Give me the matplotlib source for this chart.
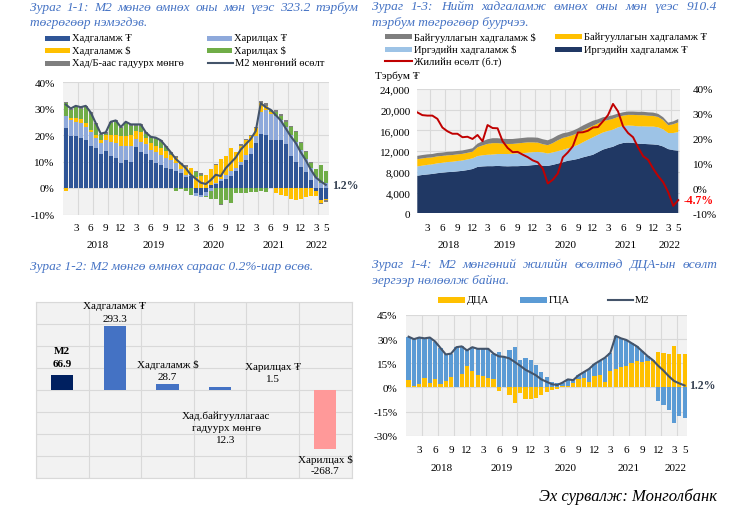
import numpy as np
import matplotlib
matplotlib.use("Agg")
import matplotlib.pyplot as plt
from matplotlib.patches import Rectangle
from matplotlib.lines import Line2D

# ---------------- data ----------------
months = list(range(53))   # Jan 2018 .. May 2022
month_tick_pos = [2, 5, 8, 11, 14, 17, 20, 23, 26, 29, 32, 35, 38, 41, 44, 47, 50, 52]
month_tick_lab = ['3', '6', '9', '12', '3', '6', '9', '12', '3', '6', '9', '12',
                  '3', '6', '9', '12', '3', '5']
years = ['2018', '2019', '2020', '2021', '2022']
year_pos = [6.3, 17.5, 29.5, 41.5, 50.2]

# Panel 1-1 / 1-4 : M2 annual growth (%)
m2_growth = [31.5, 30, 31, 30.5, 31, 28.5, 24.5, 20.5, 21, 25,
             25.5, 23, 25, 24, 24, 24, 21, 19.3, 19, 18,
             15.8, 13.5, 11, 9.3, 7.5, 5, 3.5, 2, 1.5, 3,
             5, 4.5, 7.5, 9.5, 11.5, 14.5, 16.5, 18.5, 21.5, 32,
             30.5, 29.5, 27.5, 25.5, 22.5, 19.5, 17, 13.5, 10.5, 7,
             4, 2.5, 1.2]
# contributions (percentage points)
sav_mnt = [22.5, 19.5, 19.5, 19, 18, 16, 15, 13, 14, 12,
           11.5, 9.5, 10.5, 10, 15.5, 13.5, 13, 10.5, 9.5, 8.5,
           7.5, 7, 6.5, 5.5, 4, 4.5, -2, -2.5, -1.5, 1,
           1.5, 2.5, 3.5, 4.5, 6.5, 8.5, 10.5, 13, 17, 20.5,
           20, 18, 18, 18, 16.5, 12, 10, 8, 6, 3,
           -1, -4.5, -4]
cur_mnt = [4.5, 6, 5.5, 5.5, 5, 5, 4, 4, 4, 5.5,
           5.5, 6.5, 5.5, 6, 3, 4, 3.5, 4, 4, 4,
           4, 3.5, 3, 1.5, 1, 0.5, -1, -1, -1.5, -1,
           0.5, 1, 1.5, 2, 1, 1.5, 2, 2, 2.5, 8,
           9.5, 10, 9, 7.5, 6.5, 8, 7.5, 6.5, 5, 4.5,
           4, 2, 2]
sav_usd = [-1, 1, 1.5, 1.5, 1.5, 1, 1, 1, 2, 2.5,
           3, 3.5, 3.5, 4, 3, 3.5, 2.5, 2.5, 2.5, 2.5,
           2.5, 2, 2, 2, 3, 2.5, 4, 4.5, 5, 6,
           6.5, 7.5, 7, 8.5, 6, 6, 5.5, 4.5, 3, 3.5,
           1.5, 0.5, -2, -2.5, -3, -4, -4.5, -4, -3.5, -3,
           -2, -1, -0.5]
cur_usd = [5, 3, 4, 4, 6, 6, 4, 2, 0.5, 4.5,
           5, 3, 5, 3.5, 2, 2.5, 1.5, 1.8, 2.5, 2.5,
           1.3, 0.5, -1, -0.5, -1, -2.5, 2, 0.5, -0.5, -3,
           -4, -6, -4.5, -5.5, -2, -2, -2, -1.5, -1.5, -1,
           -1.5, 0.5, 1.5, 1.5, 2, 3, 3.5, 2.5, 2.5, 2,
           3, 6.5, 4.5]
cash_out = [0.5, 0.5, 0.5, 0.5, 0.5, 0.5, 0.5, 0.5, 0.5, 0.5,
            0.5, 0.5, 0.5, 0.5, 0.5, 0.5, 0.5, 0.5, 0.5, 0.5,
            0.5, 0.5, 0.5, 0.5, 0.5, 0, 0.5, 0.5, 0, 0,
            0.5, -0.5, 0, 0, 0, 0.5, 0.5, 0.5, 0.5, 1,
            1, 0.5, 1, 1, 0.5, 0.5, 0.5, 0.5, 0.5, 0.5,
            0, -0.5, -0.8]

# Panel 1-3 : deposits (bn MNT) and annual growth (%)
ind_mnt = [7250, 7400, 7500, 7600, 7750, 7850, 7950, 8000, 8100, 8200,
           8350, 8550, 8950, 9050, 9100, 9100, 9150, 9100, 9070, 9100,
           9100, 9150, 9200, 9300, 9350, 9200, 9150, 9350, 9600, 9850,
           10150, 10300, 10500, 10800, 11050, 11300, 11800, 12300, 12600, 12850,
           13300, 13570, 13650, 13600, 13450, 13400, 13350, 13300, 13200, 12900,
           12400, 12200, 12100]
ind_usd = [1800, 1800, 1850, 1850, 1900, 1900, 1950, 1950, 2000, 2000,
           2050, 2050, 2100, 2150, 2200, 2250, 2300, 2350, 2380, 2400,
           2450, 2450, 2500, 2500, 2500, 2550, 2400, 2400, 2400, 2400,
           2400, 2500, 2700, 2900, 3150, 3370, 3350, 3300, 3300, 3300,
           3300, 3280, 3300, 3300, 3350, 3400, 3400, 3450, 3400, 3300,
           3100, 3300, 3600]
org_mnt = [1400, 1400, 1380, 1350, 1350, 1330, 1300, 1300, 1280, 1280,
           1280, 1290, 1700, 1900, 2100, 2200, 2100, 2000, 1930, 1900,
           1950, 2000, 2000, 1900, 1800, 1600, 1600, 1800, 2100, 2300,
           2260, 2300, 2300, 2300, 2250, 2230, 2200, 2200, 2100, 2100,
           2000, 2000, 2050, 2100, 2150, 2150, 2100, 2050, 2000, 1800,
           1500, 1700, 1850]
org_usd = [640, 650, 650, 650, 650, 650, 660, 660, 660, 660,
           660, 660, 700, 800, 900, 950, 950, 950, 960, 950,
           950, 950, 950, 950, 950, 950, 950, 950, 950, 900,
           830, 850, 900, 950, 970, 970, 800, 750, 700, 700,
           650, 650, 650, 650, 650, 650, 650, 650, 600, 550,
           500, 550, 650]
dep_growth = [30.6, 29.5, 29.3, 29.3, 28, 24.5, 23, 22, 22, 20.6,
              20.8, 19.9, 21.5, 19, 25.5, 24.3, 24.2, 19, 16.3, 14.6,
              14.7, 13.6, 12.6, 11.3, 10.5, 8, 2, 3.5, 6, 12.5,
              14.5, 17, 22.5, 22.6, 23.2, 24.5, 24.7, 27, 29.5, 34,
              31, 25, 22.3, 20.6, 16.5, 13, 11.5, 8, 5, 2.5,
              -1.5, -7, -4.7]

# Panel 1-2 : monthly change (bn MNT)
p2_vals = [66.9, 293.3, 28.7, 12.3, 1.5, -268.7]

# Panel 1-4 : contributions to M2 growth
nda = [4.5, 1, 2, 6, 3, 5.5, 2, 4, 6.5, 0.5,
       8.5, 13, 10.5, 7.5, 7, 6, 5, -2.5, 0.5, -5,
       -9.5, -3.5, -7, -7.5, -6.5, -4.5, -3, -1.5, -1, 1,
       1, 2.5, 5.5, 6, 3.5, 7, 7.5, 3.5, 10.5, 11.5,
       12.5, 13.5, 15, 16.5, 16, 16.5, 16.5, 22, 21.5, 21,
       26, 20.5, 20.5]
nfa = [27, 29, 29, 24.5, 28, 23, 22.5, 16.5, 14.5, 24.5,
       17, 10, 14.5, 16.5, 17, 18, 16, 21.8, 18.5, 23,
       25.3, 17, 18, 16.8, 14, 9.5, 6.5, 3.5, 2.5, 2,
       4, 2, 2, 3.5, 8, 7.5, 9, 15, 11, 20.5,
       18, 16, 12.5, 9, 6.5, 3, 0.5, -8.5, -11, -14,
       -22, -18, -19.3]

# ---------------- style ----------------
W, H = 736, 510
plt.rcParams['font.family'] = ['Liberation Serif', 'DejaVu Serif']
fig = plt.figure(figsize=(W / 100, H / 100), dpi=100)

TITLE_C = '#4472C4'
BG = '#F2F2F2'
GRID = '#D9D9D9'
TICK_FS = 8
LEG_FS = 7.6
TITLE_FS = 9.6


def ax_px(x0, y0, x1, y1):
    return fig.add_axes([x0 / W, 1 - y1 / H, (x1 - x0) / W, (y1 - y0) / H])


def ftxt(x, y, s, **kw):
    return fig.text(x / W, 1 - y / H, s, **kw)


def jtext(x0, x1, y, s, **kw):
    words = s.split(' ')
    arts = [ftxt(x0, y, w, va='center', ha='left', **kw) for w in words]
    r = fig.canvas.get_renderer()
    widths = [a.get_window_extent(r).width for a in arts]
    gap = (x1 - x0 - sum(widths)) / (len(words) - 1)
    x = x0
    for a, w in zip(arts, widths):
        a.set_x(x / W)
        x += w + gap


def leg_patch(x, y, color, label, w=25, h=5):
    fig.add_artist(Rectangle((x / W, 1 - (y + h / 2) / H), w / W, h / H,
                             transform=fig.transFigure, color=color, lw=0))
    ftxt(x + w + 2, y, label, fontsize=LEG_FS, va='center', ha='left')


def leg_line(x, y, color, label, w=25, lw=1.5):
    fig.add_artist(Line2D([x / W, (x + w) / W], [1 - y / H, 1 - y / H],
                          transform=fig.transFigure, color=color, lw=lw))
    ftxt(x + w + 2, y, label, fontsize=LEG_FS, va='center', ha='left')


def stacked_bars(ax, x, series, colors, width):
    pos = np.zeros(len(x))
    neg = np.zeros(len(x))
    for vals, c in zip(series, colors):
        v = np.asarray(vals, float)
        bottom = np.where(v >= 0, pos, neg)
        ax.bar(x, v, width, bottom=bottom, color=c, linewidth=0, zorder=2)
        pos = pos + np.where(v >= 0, v, 0)
        neg = neg + np.where(v < 0, v, 0)


def style_time_axis(ax, xlim, dy_m, dy_y):
    ax.set_facecolor(BG)
    ax.set_xlim(*xlim)
    ax.set_xticks(np.arange(2.5, 52, 3), minor=True)
    ax.set_xticks([])
    ax.grid(True, which='minor', axis='x', color=GRID, lw=0.8)
    ax.grid(True, which='major', axis='y', color=GRID, lw=0.8)
    ax.set_axisbelow(True)
    ax.tick_params(axis='both', which='both', length=0, labelsize=TICK_FS)
    for s in ax.spines.values():
        s.set_visible(False)
    for p, l in zip(month_tick_pos, month_tick_lab):
        ax.annotate(l, xy=(p, 0), xycoords=('data', 'axes fraction'),
                    xytext=(0, -dy_m), textcoords='offset pixels',
                    ha='center', va='center', fontsize=TICK_FS)
    for p, l in zip(year_pos, years):
        ax.annotate(l, xy=(p, 0), xycoords=('data', 'axes fraction'),
                    xytext=(0, -dy_y), textcoords='offset pixels',
                    ha='center', va='center', fontsize=TICK_FS)


# ---------------- Panel 1-1 ----------------
jtext(30, 358, 8, 'Зураг 1-1: М2 мөнгө өмнөх оны мөн үеэс 323.2 тэрбум',
      fontsize=TITLE_FS, style='italic', color=TITLE_C)
ftxt(30, 23, 'төгрөгөөр нэмэгдэв.', fontsize=TITLE_FS, style='italic',
     color=TITLE_C, va='center')

C_SM, C_CM, C_SU, C_CU, C_CO, C_M2 = '#2F5597', '#8EA9DB', '#FFC000', '#70AD47', '#7F7F7F', '#44546A'
leg_patch(45, 39, C_SM, 'Хадгаламж ₮')
leg_patch(45, 51.5, C_SU, 'Хадгаламж $')
leg_patch(45, 64, C_CO, 'Хад/Б-аас гадуурх мөнгө')
leg_patch(207, 39, C_CM, 'Харилцах ₮')
leg_patch(207, 51.5, C_CU, 'Харилцах $')
leg_line(208, 64, C_M2, 'М2 мөнгөний өсөлт')

ax1 = ax_px(63, 83, 328.5, 215.5)
stacked_bars(ax1, months, [sav_mnt, cur_mnt, sav_usd, cur_usd, cash_out],
             [C_SM, C_CM, C_SU, C_CU, C_CO], 0.72)
ax1.plot(months, m2_growth, color=C_M2, lw=1.5, zorder=3)
ax1.set_ylim(-10, 40)
ax1.set_yticks(range(-10, 41, 10))
ax1.set_yticklabels([f'{v}%' for v in range(-10, 41, 10)])
ax1.tick_params(axis='y', pad=6)
style_time_axis(ax1, (-0.55, 52.55), 12.8, 30.5)
ax1.annotate(f'{m2_growth[-1]}%', xy=(months[-1], m2_growth[-1]),
             xytext=(6, 0), textcoords='offset pixels', ha='left', va='center',
             fontsize=8.5, fontweight='bold', color='#333F50', annotation_clip=False)

# ---------------- Panel 1-3 ----------------
jtext(372, 717, 7, 'Зураг 1-3: Нийт хадгаламж өмнөх оны мөн үеэс 910.4',
      fontsize=TITLE_FS, style='italic', color=TITLE_C)
ftxt(372, 23, 'тэрбум төгрөгөөр буурчээ.', fontsize=TITLE_FS, style='italic',
     color=TITLE_C, va='center')

C_OU, C_OM, C_IU, C_IM, C_R = '#7F7F7F', '#FFC000', '#9DC3E6', '#203864', '#C00000'
leg_patch(385, 37.7, C_OU, 'Байгууллагын хадгаламж $', w=27)
leg_patch(385, 50, C_IU, 'Иргэдийн хадгаламж $', w=27)
leg_line(385, 61.7, C_R, 'Жилийн өсөлт (б.т)', w=27)
leg_patch(555, 37.7, C_OM, 'Байгууллагын хадгаламж ₮', w=27)
leg_patch(555, 50, C_IM, 'Иргэдийн хадгаламж ₮', w=27)
ftxt(375, 76, 'Тэрбум ₮', fontsize=TICK_FS, va='center', ha='left')

ax3 = ax_px(417.3, 90, 680, 214.3)
ax3.stackplot(months, ind_mnt, ind_usd, org_mnt, org_usd,
              colors=[C_IM, C_IU, C_OM, C_OU], lw=0, zorder=2)
ax3.set_ylim(0, 24000)
ax3.set_yticks(range(0, 24001, 4000))
ax3.set_yticklabels([f'{v:,}' for v in range(0, 24001, 4000)])
ax3.tick_params(axis='y', pad=5)
style_time_axis(ax3, (0, 52.35), 14, 31.7)
ax3r = ax3.twinx()
ax3r.plot(months, dep_growth, color=C_R, lw=1.4)
ax3r.set_ylim(-10, 40)
ax3r.set_yticks(range(-10, 41, 10))
ax3r.set_yticklabels([f'{v}%' for v in range(-10, 41, 10)])
ax3r.tick_params(axis='y', length=0, labelsize=TICK_FS, pad=9)
for s in ax3r.spines.values():
    s.set_visible(False)
ax3r.annotate(f'{dep_growth[-1]}%', xy=(months[-1], dep_growth[-1]),
              xytext=(5, 0), textcoords='offset pixels', ha='left', va='center',
              fontsize=8.5, fontweight='bold', color='#FF0000', annotation_clip=False)

# ---------------- Panel 1-2 ----------------
ftxt(30, 266.7, 'Зураг 1-2: М2 мөнгө өмнөх сараас 0.2%-иар өсөв.',
     fontsize=TITLE_FS, style='italic', color=TITLE_C, va='center')
ax2 = ax_px(36, 303, 351.7, 479.3)
bx = np.arange(len(p2_vals)) + 0.5
ax2.bar(bx, p2_vals, 0.42,
        color=['#002060', '#4472C4', '#4472C4', '#4472C4', '#4472C4', '#FF9999'],
        zorder=2)
ax2.set_xlim(0, len(p2_vals))
ax2.set_ylim(-400, 400)
ax2.set_yticks(range(-400, 401, 100))
ax2.set_xticks(range(0, len(p2_vals) + 1))
ax2.set_facecolor(BG)
ax2.grid(True, color=GRID, lw=0.8)
ax2.set_axisbelow(True)
ax2.tick_params(length=0, labelbottom=False, labelleft=False)
for s in ax2.spines.values():
    s.set_color(GRID)

P2_FS = 8
p2_labels = [
    (0, [('M2', 25), ('66.9', 12.4)], 0, 'bold'),
    (1, [('Хадгаламж ₮', 19.7), ('293.3', 7)], 0, 'normal'),
    (2, [('Хадгаламж $', 20), ('28.7', 7)], 0, 'normal'),
    (3, [('Хад.байгууллагаас', -27.4), ('гадуурх мөнгө', -40), ('12.3', -51.7)], 6, 'normal'),
    (4, [('Харилцах ₮', 23.7), ('1.5', 11.7)], 0, 'normal'),
    (5, [('Харилцах $', -9.3), ('-268.7', -21)], 0, 'normal'),
]
for i, lines, dx, wt in p2_labels:
    for txt, dy in lines:
        ax2.annotate(txt, xy=(bx[i], p2_vals[i]), xytext=(dx, dy),
                     textcoords='offset pixels', ha='center', va='center',
                     fontsize=P2_FS, fontweight=wt)

# ---------------- Panel 1-4 ----------------
jtext(372, 717, 265, 'Зураг 1-4: М2 мөнгөний жилийн өсөлтөд ДЦА-ын өсөлт',
      fontsize=TITLE_FS, style='italic', color=TITLE_C)
ftxt(372, 280.5, 'эергээр нөлөөлж байна.', fontsize=TITLE_FS, style='italic',
     color=TITLE_C, va='center')
C_ND, C_NF = '#FFC000', '#5B9BD5'
leg_patch(438, 300.7, C_ND, 'ДЦА', w=27, h=6)
leg_patch(520, 300.7, C_NF, 'ГЦА', w=27, h=6)
leg_line(608, 300.7, C_M2, 'М2', w=25)

ax4 = ax_px(405.7, 316, 687.3, 436.7)
stacked_bars(ax4, months, [nda, nfa], [C_ND, C_NF], 0.8)
ax4.plot(months, m2_growth, color=C_M2, lw=1.5, zorder=3)
ax4.set_ylim(-30, 45)
ax4.set_yticks(range(-30, 46, 15))
ax4.set_yticklabels([f'{v}%' for v in range(-30, 46, 15)])
ax4.tick_params(axis='y', pad=6)
style_time_axis(ax4, (-0.55, 52.5), 14.3, 32.3)
ax4.annotate(f'{m2_growth[-1]}%', xy=(months[-1], m2_growth[-1]),
             xytext=(4, 0), textcoords='offset pixels', ha='left', va='center',
             fontsize=8.5, fontweight='bold', color='#333F50', annotation_clip=False)

# ---------------- source ----------------
ftxt(717, 497, 'Эх сурвалж: Монголбанк', fontsize=12, style='italic',
     ha='right', va='center')

fig.savefig('out.png', dpi=100)
